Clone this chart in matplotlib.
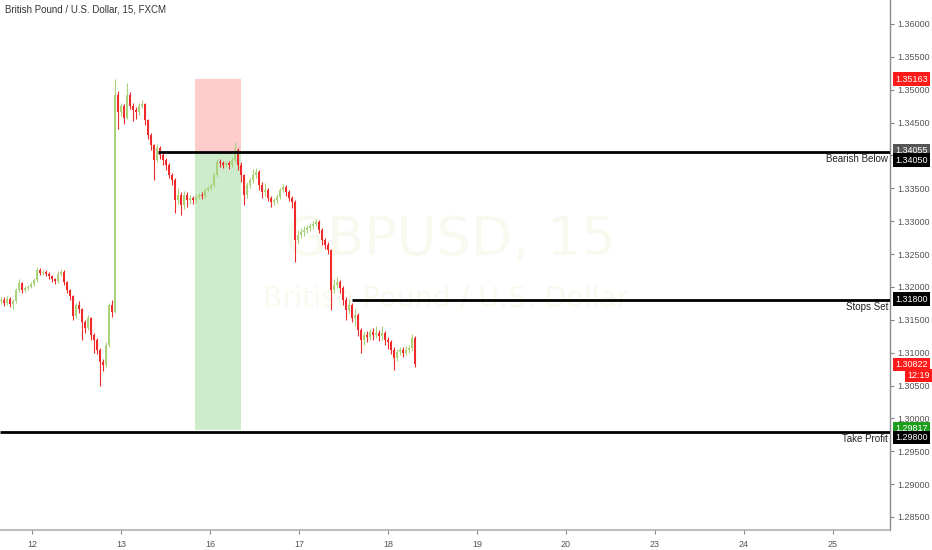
"""
GBPUSD 15m chart with short-trade setup (entry / stop / target boxes).
Values read off a TradingView screenshot.
"""

import numpy as np
import matplotlib
matplotlib.use('Agg')
import matplotlib.pyplot as plt
from matplotlib.patches import Rectangle
from matplotlib.transforms import blended_transform_factory

plt.rcParams['font.family'] = ['Liberation Sans', 'DejaVu Sans']

# ── data ────────────────────────────────────────────────────────────────────
day_labels = ['12', '13', '16', '17', '18', '19', '20', '23', '24', '25']

first_open = 1.3178
closes = [1.3180, 1.3175, 1.3182, 1.3174, 1.3178, 1.3195, 1.3206, 1.3195, 1.3198, 1.3200,
          1.3204, 1.3210, 1.3226, 1.3221, 1.3223, 1.3220, 1.3216, 1.3212, 1.3209, 1.3220,
          1.3223, 1.3207, 1.3195, 1.3186, 1.3156, 1.3172, 1.3166, 1.3147, 1.3137, 1.3153,
          1.3127, 1.3119, 1.3104, 1.3086, 1.3081, 1.3112, 1.3172, 1.3162, 1.3492, 1.3466,
          1.3476, 1.3457, 1.3492, 1.3476, 1.3469, 1.3466, 1.3476, 1.3478, 1.3454, 1.3431,
          1.3416, 1.3393, 1.3411, 1.3400, 1.3393, 1.3385, 1.3370, 1.3362, 1.3332, 1.3340,
          1.3324, 1.3340, 1.3332, 1.3335, 1.3332, 1.3337, 1.3340, 1.3338, 1.3347, 1.3350,
          1.3355, 1.3370, 1.3390, 1.3388, 1.3385, 1.3388, 1.3385, 1.3393, 1.3408, 1.3385,
          1.3370, 1.3340, 1.3355, 1.3362, 1.3370, 1.3375, 1.3355, 1.3344, 1.3347, 1.3335,
          1.3329, 1.3332, 1.3337, 1.3347, 1.3352, 1.3344, 1.3335, 1.3329, 1.3271, 1.3279,
          1.3283, 1.3286, 1.3289, 1.3292, 1.3296, 1.3299, 1.3286, 1.3271, 1.3264, 1.3256,
          1.3195, 1.3203, 1.3207, 1.3198, 1.3180, 1.3165, 1.3172, 1.3153, 1.3157, 1.3134,
          1.3119, 1.3127, 1.3124, 1.3131, 1.3127, 1.3130, 1.3125, 1.3130, 1.3119, 1.3116,
          1.3104, 1.3092, 1.3101, 1.3104, 1.3099, 1.3104, 1.3107, 1.3122, 1.3082]
highs = [1.3184, 1.3185, 1.3186, 1.3185, 1.3182, 1.3199, 1.3212, 1.3208, 1.3201, 1.3203,
         1.3207, 1.3213, 1.3230, 1.3229, 1.3226, 1.3225, 1.3222, 1.3218, 1.3214, 1.3224,
         1.3227, 1.3225, 1.3209, 1.3197, 1.3188, 1.3176, 1.3178, 1.3168, 1.3150, 1.3158,
         1.3155, 1.3130, 1.3122, 1.3107, 1.3090, 1.3116, 1.3176, 1.3180, 1.3516, 1.3498,
         1.3480, 1.3479, 1.3510, 1.3496, 1.3480, 1.3473, 1.3480, 1.3484, 1.3480, 1.3456,
         1.3434, 1.3418, 1.3418, 1.3414, 1.3404, 1.3396, 1.3388, 1.3374, 1.3366, 1.3350,
         1.3345, 1.3346, 1.3344, 1.3340, 1.3339, 1.3341, 1.3343, 1.3344, 1.3350, 1.3354,
         1.3358, 1.3373, 1.3394, 1.3395, 1.3391, 1.3391, 1.3392, 1.3397, 1.3420, 1.3412,
         1.3390, 1.3372, 1.3360, 1.3366, 1.3380, 1.3381, 1.3378, 1.3360, 1.3358, 1.3350,
         1.3338, 1.3336, 1.3342, 1.3351, 1.3357, 1.3355, 1.3348, 1.3338, 1.3332, 1.3286,
         1.3290, 1.3292, 1.3294, 1.3297, 1.3300, 1.3303, 1.3302, 1.3290, 1.3275, 1.3268,
         1.3258, 1.3212, 1.3215, 1.3210, 1.3202, 1.3184, 1.3182, 1.3176, 1.3166, 1.3160,
         1.3138, 1.3132, 1.3133, 1.3136, 1.3138, 1.3140, 1.3134, 1.3140, 1.3133, 1.3124,
         1.3120, 1.3108, 1.3106, 1.3108, 1.3108, 1.3110, 1.3112, 1.3128, 1.3125]
lows = [1.3174, 1.3171, 1.3172, 1.3170, 1.3166, 1.3175, 1.3192, 1.3190, 1.3192, 1.3195,
        1.3198, 1.3202, 1.3208, 1.3218, 1.3218, 1.3216, 1.3212, 1.3208, 1.3204, 1.3206,
        1.3216, 1.3203, 1.3190, 1.3180, 1.3150, 1.3153, 1.3160, 1.3119, 1.3130, 1.3134,
        1.3120, 1.3100, 1.3098, 1.3050, 1.3072, 1.3078, 1.3108, 1.3155, 1.3160, 1.3440,
        1.3460, 1.3448, 1.3455, 1.3470, 1.3452, 1.3455, 1.3462, 1.3472, 1.3446, 1.3425,
        1.3408, 1.3362, 1.3390, 1.3394, 1.3385, 1.3378, 1.3365, 1.3355, 1.3312, 1.3326,
        1.3310, 1.3318, 1.3322, 1.3326, 1.3326, 1.3328, 1.3333, 1.3333, 1.3335, 1.3344,
        1.3348, 1.3352, 1.3367, 1.3383, 1.3381, 1.3382, 1.3380, 1.3382, 1.3390, 1.3378,
        1.3360, 1.3324, 1.3335, 1.3350, 1.3358, 1.3365, 1.3348, 1.3335, 1.3338, 1.3330,
        1.3322, 1.3324, 1.3328, 1.3334, 1.3344, 1.3338, 1.3330, 1.3320, 1.3238, 1.3265,
        1.3274, 1.3278, 1.3282, 1.3285, 1.3288, 1.3292, 1.3282, 1.3264, 1.3258, 1.3250,
        1.3165, 1.3190, 1.3198, 1.3190, 1.3172, 1.3150, 1.3160, 1.3146, 1.3140, 1.3125,
        1.3100, 1.3112, 1.3116, 1.3120, 1.3120, 1.3122, 1.3118, 1.3120, 1.3112, 1.3106,
        1.3098, 1.3074, 1.3088, 1.3096, 1.3094, 1.3096, 1.3100, 1.3102, 1.3078]

# trade setup
stop_top     = 1.35163
entry        = 1.34055
target       = 1.29817
bearish_lvl  = 1.34050
stops_lvl    = 1.31800
tp_lvl       = 1.29800
last_price   = 1.30822
countdown    = '12:19'

# ── layout (x in trading-day units, 0 = day "12") ──────────────────────────
px_day = 89.0                       # pixels per trading day in the reference
x_first = -31 / px_day              # first candle
x_step = 3 / px_day                 # candle spacing
xlim = (-32 / px_day, (890 - 32) / px_day)
ylim = (1.28302, 1.36365)

opens = [first_open] + closes[:-1]
o, h, l, c = map(np.array, (opens, highs, lows, closes))
xs = x_first + x_step * np.arange(len(c))
up = c >= o

UP_COL, DN_COL = '#a9d27a', '#f02a2a'

fig = plt.figure(figsize=(9.32, 5.5), dpi=100)
ax = fig.add_axes([0, 20 / 550, 890 / 932, 530 / 550])
ax.set_xlim(*xlim)
ax.set_ylim(*ylim)

# watermark
ax.text(4.70, 1.3271, 'GBPUSD, 15', fontsize=39, color='#f8faef',
        ha='center', va='center', zorder=0, family='DejaVu Sans')
ax.text(4.65, 1.3182, 'British Pound / U.S. Dollar', fontsize=20.5, color='#f8faef',
        ha='center', va='center', zorder=0, family='DejaVu Sans')

# risk / reward boxes
bx0, bx1 = (195 - 32) / px_day, (241 - 32) / px_day
ax.add_patch(Rectangle((bx0, entry), bx1 - bx0, stop_top - entry,
                       fc='#ffcccc', ec='none', zorder=1))
ax.add_patch(Rectangle((bx0, target), bx1 - bx0, entry - target,
                       fc='#cdeccb', ec='none', zorder=1))

# candles
cols = np.where(up, UP_COL, DN_COL)
ax.vlines(xs, l, h, colors=cols, lw=0.8, zorder=2)
body_lo = np.minimum(o, c)
body_h = np.maximum(np.abs(c - o), 0.00008)
ax.bar(xs, body_h, bottom=body_lo, width=2 / px_day, color=cols,
       edgecolor='none', zorder=3)

# horizontal levels
ax.hlines(bearish_lvl, (158 - 32) / px_day, xlim[1], color='black', lw=2, zorder=4)
ax.hlines(stops_lvl, (352 - 32) / px_day, xlim[1], color='black', lw=2, zorder=4)
ax.hlines(tp_lvl, xlim[0], xlim[1], color='black', lw=2, zorder=4)
lab_x = xlim[1] - 2 / px_day
for lvl, txt in [(bearish_lvl, 'Bearish Below'), (stops_lvl, 'Stops Set'),
                 (tp_lvl, 'Take Profit')]:
    ax.annotate(txt, xy=(lab_x, lvl), xytext=(0, -1.5), textcoords='offset points',
                ha='right', va='top', fontsize=7, color='#222222', zorder=5)

# title
ax.text(0.006, 0.982, 'British Pound / U.S. Dollar, 15, FXCM', transform=ax.transAxes,
        fontsize=7, color='#333333', ha='left', va='center')

# axes styling
for s in ('top', 'left'):
    ax.spines[s].set_visible(False)
ax.spines['right'].set_color('#8a8a8a')
ax.spines['bottom'].set_color('#b0b0b0')
ax.spines['right'].set_linewidth(1)
ax.spines['bottom'].set_linewidth(1.2)

yt = np.round(np.arange(1.285, 1.36001, 0.005), 3)
ax.yaxis.tick_right()
ax.set_yticks(yt)
ax.set_yticklabels(['' if abs(v - 1.34) < 1e-9 else f'{v:.5f}' for v in yt])
ax.set_xticks(range(len(day_labels)))
ax.set_xticklabels(day_labels)
ax.tick_params(axis='y', length=3, width=0.8, color='#888888', labelsize=6.5,
               labelcolor='#555555', pad=2)
ax.tick_params(axis='x', length=3, width=0.8, color='#888888', labelsize=6.5,
               labelcolor='#555555', pad=4)

# price tags on the right scale
tr = blended_transform_factory(ax.transAxes, ax.transData)


def tag(price, text, color, dy_px=0, ha='left', x_pt=3.5):
    ax.annotate(text, xy=(1, price), xycoords=tr, xytext=(x_pt, dy_px * 0.72),
                textcoords='offset points', ha=ha, va='center', fontsize=6.5,
                color='white', annotation_clip=False, zorder=10,
                bbox=dict(boxstyle='square,pad=0.25', fc=color, ec='none'))


tag(stop_top, f'{stop_top:.5f}', '#ff1a1a')
tag(entry, f'{entry:.5f}', '#555555', 1)
tag(bearish_lvl, f'{bearish_lvl:.5f}', '#000000', -8)
tag(stops_lvl, f'{stops_lvl:.5f}', '#000000', 1)
tag(last_price, f'{last_price:.5f}', '#ff1a1a')
tag(last_price, countdown, '#ff1a1a', -11, ha='right', x_pt=28.5)
tag(target, f'{target:.5f}', '#1e9e1e', 2)
tag(tp_lvl, f'{tp_lvl:.5f}', '#000000', -6)

fig.savefig('out.png', dpi=100)
plt.close(fig)
print('Saved: out.png')
